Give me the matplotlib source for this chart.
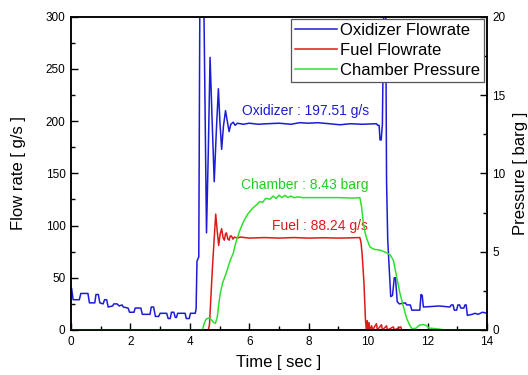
import matplotlib
matplotlib.use("Agg")
import matplotlib.pyplot as plt
from matplotlib.ticker import MultipleLocator

plt.rcParams['font.family'] = ['Liberation Sans', 'DejaVu Sans']

# ---------------- data ----------------
ox_t = [0.00, 0.02, 0.07, 0.28, 0.33, 0.57, 0.62, 0.80, 0.84, 0.92, 0.97, 1.08, 1.13, 1.20,
        1.25, 1.40, 1.44, 1.55, 1.62, 1.72, 1.76, 1.92, 1.97, 2.12, 2.16, 2.35, 2.40, 2.66,
        2.70, 2.78, 2.84, 2.95, 3.00, 3.22, 3.27, 3.34, 3.38, 3.46, 3.51, 3.55, 3.59, 3.84,
        3.88, 3.98, 4.02, 4.18, 4.21, 4.24, 4.30, 4.34, 4.46, 4.56, 4.62, 4.68, 4.75, 4.82,
        4.89, 4.96, 5.01, 5.07, 5.13, 5.20, 5.26, 5.32, 5.38, 5.46, 5.52, 5.60, 5.80, 6.00,
        6.30, 6.60, 7.00, 7.40, 7.70, 8.00, 8.30, 8.70, 9.05, 9.40, 9.80, 10.28, 10.32, 10.37,
        10.40, 10.44, 10.48, 10.53, 10.59, 10.62, 10.66, 10.76, 10.82, 10.88, 10.92, 10.98,
        11.05, 11.25, 11.30, 11.42, 11.47, 11.74, 11.78, 11.82, 11.86, 12.40, 12.75, 12.80,
        12.86, 12.90, 12.98, 13.02, 13.08, 13.12, 13.22, 13.26, 13.30, 13.34, 13.50, 13.60,
        13.70, 13.85, 14.00]
ox_v = [40, 40, 29, 29, 35, 35, 26, 26, 34, 34, 26, 25, 29, 29,
        22, 23, 25, 25, 23, 24, 22, 21, 17, 17, 21, 21, 15, 15,
        22, 22, 13, 13, 16, 16, 11, 11, 17, 17, 12, 12, 16, 16,
        11, 11, 16, 16, 20, 66, 70, 340, 340, 93, 170, 261, 200, 142,
        190, 231, 200, 173, 195, 210, 200, 190, 197, 199, 196, 198, 197, 198,
        197, 197.5, 198, 197, 198.5, 198, 198.5, 197.5, 196.5, 197.5, 197, 197.5, 196, 196,
        182, 182, 197, 320, 320, 143, 86, 32, 33, 50, 50, 27,
        25, 26, 24, 24, 19, 19, 34, 33, 22, 23, 22, 24,
        24, 19, 19, 24, 24, 21, 21, 24, 24, 14, 15, 16,
        15, 17, 16]

fuel_t = [0.00, 4.62, 4.66, 4.76, 4.87, 4.92, 4.97, 5.02, 5.07, 5.12, 5.16, 5.20, 5.23, 5.28,
          5.32, 5.36, 5.40, 5.45, 5.50, 5.60, 5.70, 6.00, 6.50, 7.00, 7.50, 8.00, 8.50, 9.00,
          9.50, 9.72, 9.76, 9.80, 9.86, 9.91, 9.94, 9.97, 10.00, 10.03, 10.06, 10.12, 10.15,
          10.28, 10.31, 10.45, 10.48, 10.62, 10.65, 10.85, 10.88, 11.10, 11.13, 14.00]
fuel_v = [0, 0, 5, 60, 111, 95, 81, 92, 97, 88, 86, 92, 93, 87,
          86, 90, 90, 87, 89, 88, 89, 88, 88.5, 88, 88.5, 88, 88.3, 88,
          88.3, 88.5, 84, 72, 45, 10, 0, 9, 0, 7, 0, 4, 0,
          6, 0, 5, 0, 4, 0, 3, 0, 3, 0, 0]

pc_t = [0.00, 4.42, 4.48, 4.55, 4.65, 4.72, 4.80, 4.86, 4.92, 4.97, 5.02, 5.10, 5.20, 5.35,
        5.46, 5.55, 5.67, 5.80, 5.95, 6.10, 6.25, 6.35, 6.45, 6.55, 6.70, 6.80, 6.90, 7.00,
        7.10, 7.20, 7.30, 7.40, 7.50, 7.65, 7.80, 8.00, 8.50, 9.00, 9.50, 9.72, 9.78, 9.84,
        9.90, 9.95, 10.06, 10.20, 10.40, 10.60, 10.74, 10.85, 10.96, 11.07, 11.19, 11.30,
        11.40, 11.47, 11.60, 11.72, 11.85, 11.95, 12.05, 12.30, 12.50, 12.60, 14.00]
pc_v = [0, 0, 0.4, 0.7, 0.78, 0.65, 0.48, 0.43, 0.8, 1.6, 2.3, 3.0, 3.5, 4.4,
        4.9, 5.6, 6.3, 6.9, 7.4, 7.75, 8.0, 8.2, 8.15, 8.4, 8.35, 8.55, 8.4, 8.6,
        8.45, 8.6, 8.45, 8.55, 8.45, 8.5, 8.45, 8.45, 8.45, 8.45, 8.42, 8.45, 7.85, 6.8,
        6.2, 5.85, 5.3, 5.15, 5.1, 4.95, 4.8, 4.45, 3.4, 2.35, 1.47, 0.73,
        0.3, 0.1, 0.1, 0.3, 0.35, 0.3, 0.12, 0.08, 0.03, 0, 0]

notes = ["Oxidizer : 197.51 g/s", "Chamber : 8.43 barg", "Fuel : 88.24 g/s"]
series_labels = ["Oxidizer Flowrate", "Fuel Flowrate", "Chamber Pressure"]

# ---------------- styling ----------------
c_ox = '#1c1cd4'
c_fuel = '#dd1a1a'
c_pc = '#2ee02e'

fig = plt.figure(figsize=(5.28, 3.75), dpi=100)
ax = fig.add_axes([0.1345, 0.12, 0.7878, 0.8355])
ax2 = ax.twinx()

l1, = ax.plot(ox_t, ox_v, color=c_ox, lw=1.1, label=series_labels[0])
l2, = ax.plot(fuel_t, fuel_v, color=c_fuel, lw=1.1, label=series_labels[1])
l3, = ax2.plot(pc_t, pc_v, color=c_pc, lw=1.1, label=series_labels[2])

ax.set_xlim(0, 14)
ax.set_ylim(0, 300)
ax2.set_ylim(0, 20)

ax.xaxis.set_major_locator(MultipleLocator(2))
ax.xaxis.set_minor_locator(MultipleLocator(1))
ax.yaxis.set_major_locator(MultipleLocator(50))
ax.yaxis.set_minor_locator(MultipleLocator(25))
ax2.yaxis.set_major_locator(MultipleLocator(5))
ax2.yaxis.set_minor_locator(MultipleLocator(2.5))

for a in (ax, ax2):
    a.tick_params(which='major', direction='in', length=5, width=1, labelsize=8.5, pad=4)
    a.tick_params(which='minor', direction='in', length=3, width=1)
    for s in a.spines.values():
        s.set_linewidth(1.1)
ax.tick_params(which='both', top=False, right=False)

ax.set_xlabel("Time [ sec ]", fontsize=12, labelpad=5)
ax.set_ylabel("Flow rate [ g/s ]", fontsize=12, labelpad=14)
ax2.set_ylabel("Pressure [ barg ]", fontsize=12, labelpad=5)

ax.text(5.75, 210, notes[0], color=c_ox, fontsize=10, va='center', ha='left')
ax.text(5.72, 139, notes[1], color='#22cc22', fontsize=10, va='center', ha='left')
ax.text(6.78, 100, notes[2], color=c_fuel, fontsize=10, va='center', ha='left')

leg = ax2.legend(handles=[l1, l2, l3], loc='upper right', bbox_to_anchor=(0.993, 0.993),
                 borderaxespad=0, fontsize=12, handlelength=2.5, handletextpad=0.2,
                 labelspacing=0.3, borderpad=0.25, fancybox=False, framealpha=1,
                 edgecolor='#555555')
leg.get_frame().set_linewidth(0.9)

fig.savefig("out.png", dpi=100)
